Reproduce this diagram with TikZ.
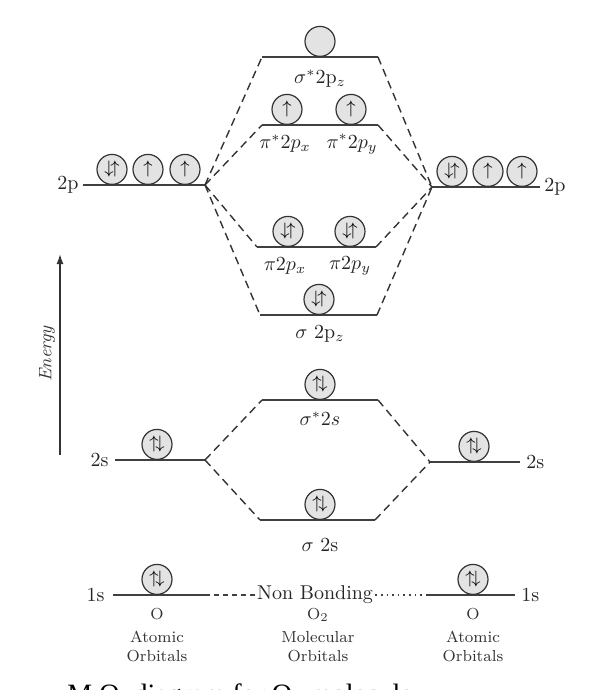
\documentclass[tikz,border=0pt]{standalone}
\usepackage{fontspec}
\usepackage{tikz}
\usetikzlibrary{positioning, arrows.meta}
\newfontfamily\capfont{Liberation Serif}

\begin{document}
\begin{tikzpicture}[x=0.5pt, y=-0.5pt,
      lvl/.style={draw=black!75, line width=0.8pt},
      cnx/.style={draw=black!80, line width=0.7pt, dash pattern=on 4pt off 2.5pt},
      orb/.style={draw=black!80, circle, fill=gray!22, line width=0.6pt, inner sep=0pt, minimum size=15pt, anchor=south, font=\small},
      lbl/.style={font=\normalsize, text=black!85, inner sep=1pt},
      foot/.style={font=\footnotesize, text=black!80, align=center, inner sep=0pt}]
      \useasboundingbox (0,0) rectangle (594,690);
      \clip (0,0) rectangle (594,690);
      % energy levels: atomic (left, right) and molecular (middle)
      \coordinate (lp-a) at (83,185);   \coordinate (lp-b) at (205,185);
      \coordinate (rp-a) at (432,187);  \coordinate (rp-b) at (540,187);
      \coordinate (ssp-a) at (262,57);  \coordinate (ssp-b) at (378,57);
      \coordinate (pst-a) at (262,125); \coordinate (pst-b) at (378,125);
      \coordinate (pi-a) at (257,247);  \coordinate (pi-b) at (376,247);
      \coordinate (sp-a) at (260,315);  \coordinate (sp-b) at (377,315);
      \coordinate (sss-a) at (262,400); \coordinate (sss-b) at (378,400);
      \coordinate (ls-a) at (115,460);  \coordinate (ls-b) at (205,460);
      \coordinate (rs-a) at (430,462);  \coordinate (rs-b) at (520,462);
      \coordinate (ss-a) at (260,520);  \coordinate (ss-b) at (375,520);
      \coordinate (l1-a) at (113,595);  \coordinate (l1-b) at (205,595);
      \coordinate (r1-a) at (427,595);  \coordinate (r1-b) at (515,595);
      \foreach \lv in {lp,rp,ssp,pst,pi,sp,sss,ls,rs,ss,l1,r1}
        \draw[lvl] (\lv-a) -- (\lv-b);
      % correlation lines
      \draw[cnx] (lp-b) -- (ssp-a); \draw[cnx] (lp-b) -- (pst-a);
      \draw[cnx] (lp-b) -- (pi-a);  \draw[cnx] (lp-b) -- (sp-a);
      \draw[cnx] (ssp-b) -- (rp-a); \draw[cnx] (pst-b) -- (rp-a);
      \draw[cnx] (pi-b) -- (rp-a);  \draw[cnx] (sp-b) -- (rp-a);
      \draw[cnx] (ls-b) -- (sss-a); \draw[cnx] (ls-b) -- (ss-a);
      \draw[cnx] (sss-b) -- (rs-a); \draw[cnx] (ss-b) -- (rs-a);
      % orbitals with electrons
      \node[orb] (o2pL1) at (112,185) {$\downarrow\!\uparrow$};
      \node[orb] (o2pL2) at (148,185) {$\uparrow$};
      \node[orb] (o2pL3) at (185,185) {$\uparrow$};
      \node[orb] (o2pR1) at (452,187) {$\downarrow\!\uparrow$};
      \node[orb] (o2pR2) at (488,187) {$\uparrow$};
      \node[orb] (o2pR3) at (522,187) {$\uparrow$};
      \node[orb] (ossp) at (320,57) {};
      \node[orb] (opstx) at (287,125) {$\uparrow$};
      \node[orb] (opsty) at (351,125) {$\uparrow$};
      \node[orb] (opix) at (288,247) {$\downarrow\!\uparrow$};
      \node[orb] (opiy) at (350,247) {$\downarrow\!\uparrow$};
      \node[orb] (osp) at (319,315) {$\downarrow\!\uparrow$};
      \node[orb] (osss) at (320,400) {$\uparrow\!\downarrow$};
      \node[orb] (o2sL) at (157,460) {$\uparrow\!\downarrow$};
      \node[orb] (o2sR) at (474,462) {$\uparrow\!\downarrow$};
      \node[orb] (oss) at (320,520) {$\uparrow\!\downarrow$};
      \node[orb] (o1sL) at (157,595) {$\uparrow\!\downarrow$};
      \node[orb] (o1sR) at (473,595) {$\uparrow\!\downarrow$};
      % level labels
      \node[lbl, left=1pt of lp-a] (t2pL) {2p};
      \node[lbl, right=1pt of rp-b] (t2pR) {2p};
      \node[lbl, left=2pt of ls-a] (t2sL) {2s};
      \node[lbl, right=2pt of rs-b] (t2sR) {2s};
      \node[lbl, left=3pt of l1-a] (t1sL) {1s};
      \node[lbl, right=2pt of r1-b] (t1sR) {1s};
      \node[lbl] (tssp) at (320,79) {$\sigma^*2\mathrm{p}_z$};
      \node[lbl] (tpstx) at (285,144) {$\pi^*2p_x$};
      \node[lbl] (tpsty) at (352,144) {$\pi^*2p_y$};
      \node[lbl] (tpix) at (285,266) {$\pi2p_x$};
      \node[lbl] (tpiy) at (350,266) {$\pi2p_y$};
      \node[lbl] (tsp) at (320,334) {$\sigma\ 2\mathrm{p}_z$};
      \node[lbl] (tsss) at (320,419) {$\sigma^*2s$};
      \node[lbl] (tss) at (320,545) {$\sigma\ 2\mathrm{s}$};
      % non bonding 1s
      \node[lbl, fill=white] (nb) at (315,595) {Non Bonding};
      \draw[black!75, line width=0.6pt, dash pattern=on 2.5pt off 2pt] (l1-b) -- (nb);
      \draw[black!75, line width=0.8pt, dotted] (nb) -- (r1-a);
      % energy axis
      \coordinate (en-a) at (60,455); \coordinate (en-b) at (60,254);
      \draw[black!80, line width=0.7pt, -{Latex[length=5pt, width=3.5pt]}] (en-a) -- (en-b);
      \node[font=\small\itshape, text=black!80, rotate=90] (en) at (47,354) {Energy};
      % bottom captions
      \node[foot] (aoL) at (157,635) {O\\[2pt] Atomic\\ Orbitals};
      \node[foot] (mo) at (318,635) {O$_2$\\[2pt] Molecular\\ Orbitals};
      \node[foot] (aoR) at (473,635) {O\\[2pt] Atomic\\ Orbitals};
      \node[font=\capfont\fontsize{14pt}{16pt}\selectfont, anchor=base west, inner sep=0pt] (cap) at (67,703) {M.O. diagram for O$_2$ molecule};
\end{tikzpicture}
\end{document}
